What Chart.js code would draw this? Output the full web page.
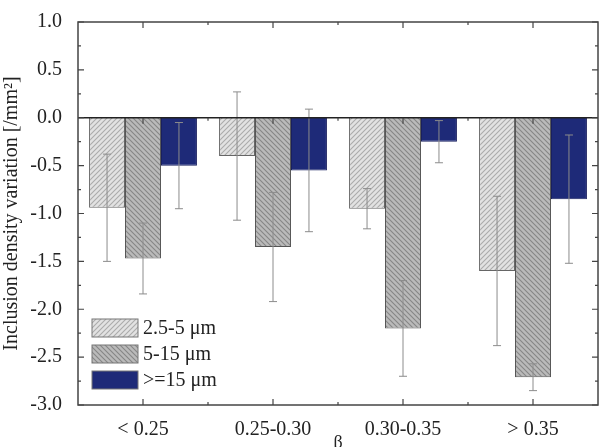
<!DOCTYPE html>
<html>
<head>
<meta charset="utf-8">
<script src="https://cdn.jsdelivr.net/npm/chart.js@4"></script>
<style>
  html, body { margin: 0; padding: 0; background: #fff; }
  #wrap { width: 605px; height: 447px; }
</style>
</head>
<body>
<div id="wrap"><canvas id="myChart" width="605" height="447"></canvas></div>
<script>
// data
const categories = ['< 0.25', '0.25-0.30', '0.30-0.35', '> 0.35'];
const seriesNames = ['2.5-5 \u03bcm', '5-15 \u03bcm', '>=15 \u03bcm'];
const small = [-0.94, -0.40, -0.95, -1.60];
const medium = [-1.47, -1.35, -2.20, -2.71];
const large = [-0.50, -0.55, -0.25, -0.85];
const smallErr = [0.56, 0.67, 0.21, 0.78];
const mediumErr = [0.37, 0.57, 0.50, 0.14];
const largeErr = [0.45, 0.64, 0.22, 0.67];
const yTicks = [1.0, 0.5, 0.0, -0.5, -1.0, -1.5, -2.0, -2.5, -3.0];

const serif = "'Liberation Serif', 'DejaVu Serif', serif";

// hatch patterns
function hatch(bg, line, dir) {
  const s = 5;
  const c = document.createElement('canvas');
  c.width = s; c.height = s;
  const g = c.getContext('2d');
  g.fillStyle = bg;
  g.fillRect(0, 0, s, s);
  g.strokeStyle = line;
  g.lineWidth = 1.1;
  g.beginPath();
  if (dir > 0) { // "/"
    g.moveTo(-1, 1); g.lineTo(1, -1);
    g.moveTo(0, s); g.lineTo(s, 0);
    g.moveTo(s - 1, s + 1); g.lineTo(s + 1, s - 1);
  } else { // "\"
    g.moveTo(-1, s - 1); g.lineTo(1, s + 1);
    g.moveTo(0, 0); g.lineTo(s, s);
    g.moveTo(s - 1, -1); g.lineTo(s + 1, 1);
  }
  g.stroke();
  return document.createElement('canvas').getContext('2d').createPattern(c, 'repeat');
}

const lightHatch = hatch('#e2e2e2', '#ababab', 1);
const darkHatch = hatch('#bababa', '#868686', -1);
const navy = '#1e2a78';

const errs = [smallErr, mediumErr, largeErr];

// frame, inward ticks, zero line, error bars, legend
const extras = {
  id: 'extras',
  afterDatasetsDraw(chart) {
    const ctx = chart.ctx;
    const a = chart.chartArea;
    const x = chart.scales.x, y = chart.scales.y;
    ctx.save();

    // error bars
    ctx.strokeStyle = '#8c8c8c';
    ctx.lineWidth = 1;
    chart.data.datasets.forEach((ds, di) => {
      chart.getDatasetMeta(di).data.forEach((bar, i) => {
        const v = ds.data[i], e = errs[di][i];
        const y1 = y.getPixelForValue(v + e), y2 = y.getPixelForValue(v - e);
        ctx.beginPath();
        ctx.moveTo(bar.x, y1); ctx.lineTo(bar.x, y2);
        ctx.moveTo(bar.x - 4, y1); ctx.lineTo(bar.x + 4, y1);
        ctx.moveTo(bar.x - 4, y2); ctx.lineTo(bar.x + 4, y2);
        ctx.stroke();
      });
    });

    // zero line
    const y0 = y.getPixelForValue(0);
    ctx.strokeStyle = '#222';
    ctx.lineWidth = 1.5;
    ctx.beginPath();
    ctx.moveTo(a.left, y0); ctx.lineTo(a.right, y0);
    ctx.stroke();

    // frame
    ctx.strokeStyle = '#444';
    ctx.lineWidth = 1.5;
    ctx.strokeRect(a.left, a.top, a.right - a.left, a.bottom - a.top);

    // y ticks (inward, both sides)
    ctx.lineWidth = 1.2;
    ctx.beginPath();
    for (let v = -3; v <= 1.0001; v += 0.25) {
      const py = y.getPixelForValue(v);
      const major = Math.abs(v * 2 - Math.round(v * 2)) < 1e-6;
      const len = major ? 6 : 3;
      ctx.moveTo(a.left, py); ctx.lineTo(a.left + len, py);
      ctx.moveTo(a.right, py); ctx.lineTo(a.right - len, py);
    }
    // x ticks: centres (major) and boundaries (minor)
    const step = x.getPixelForValue(1) - x.getPixelForValue(0);
    categories.forEach((c, i) => {
      const px = x.getPixelForValue(i);
      ctx.moveTo(px, a.bottom); ctx.lineTo(px, a.bottom - 6);
      ctx.moveTo(px, a.top); ctx.lineTo(px, a.top + 6);
      ctx.moveTo(px, y0); ctx.lineTo(px, y0 + 6);
      if (i < categories.length - 1) {
        const bx = px + step / 2;
        ctx.moveTo(bx, a.bottom); ctx.lineTo(bx, a.bottom - 3);
        ctx.moveTo(bx, a.top); ctx.lineTo(bx, a.top + 3);
        ctx.moveTo(bx, y0); ctx.lineTo(bx, y0 + 3);
      }
    });
    ctx.stroke();

    // legend inside plot, bottom left
    const fills = chart.data.datasets.map(d => d.backgroundColor);
    const lx = a.left + 14, ly = a.bottom - 86, bw = 46, bh = 18, gap = 26;
    ctx.font = '20px ' + serif;
    ctx.textBaseline = 'middle';
    ctx.textAlign = 'left';
    seriesNames.forEach((name, i) => {
      const ty = ly + i * gap;
      ctx.fillStyle = fills[i];
      ctx.fillRect(lx, ty, bw, bh);
      ctx.strokeStyle = '#777';
      ctx.lineWidth = 1;
      ctx.strokeRect(lx, ty, bw, bh);
      ctx.fillStyle = '#222';
      ctx.fillText(name, lx + bw + 5, ty + bh / 2 + 1);
    });

    ctx.restore();
  }
};

const config = {
  type: 'bar',
  data: {
    labels: categories,
    datasets: [
      { label: seriesNames[0], data: small, backgroundColor: lightHatch, borderColor: '#666', borderWidth: 1 },
      { label: seriesNames[1], data: medium, backgroundColor: darkHatch, borderColor: '#555', borderWidth: 1 },
      { label: seriesNames[2], data: large, backgroundColor: navy, borderColor: '#1a2060', borderWidth: 1 }
    ]
  },
  options: {
    responsive: false,
    animation: false,
    layout: { padding: { top: 22, right: 7, left: 0, bottom: 0 } },
    plugins: { legend: { display: false }, tooltip: { enabled: false } },
    datasets: { bar: { categoryPercentage: 0.83, barPercentage: 1.0 } },
    scales: {
      x: {
        grid: { display: false },
        border: { display: false },
        ticks: { color: '#222', font: { family: serif, size: 20 }, padding: 5, maxRotation: 0 },
        title: { display: true, text: '\u03b2', color: '#222', font: { family: serif, size: 18 }, padding: { top: 0, bottom: -7 } },
        afterFit(s) { s.height = 42; }
      },
      y: {
        min: -3, max: 1,
        grid: { display: false },
        border: { display: false },
        afterBuildTicks(s) { s.ticks = yTicks.map(v => ({ value: v })); },
        ticks: {
          color: '#222', font: { family: serif, size: 20 }, padding: 8,
          callback: v => v.toFixed(1)
        },
        title: { display: true, text: 'Inclusion density variation [/mm\u00b2]', color: '#222', font: { family: serif, size: 20 }, padding: 0 },
        afterFit(s) { s.width = 78; }
      }
    }
  },
  plugins: [extras]
};

const ctx = document.getElementById('myChart').getContext('2d');
const chart = new Chart(ctx, config);
</script>
</body>
</html>
